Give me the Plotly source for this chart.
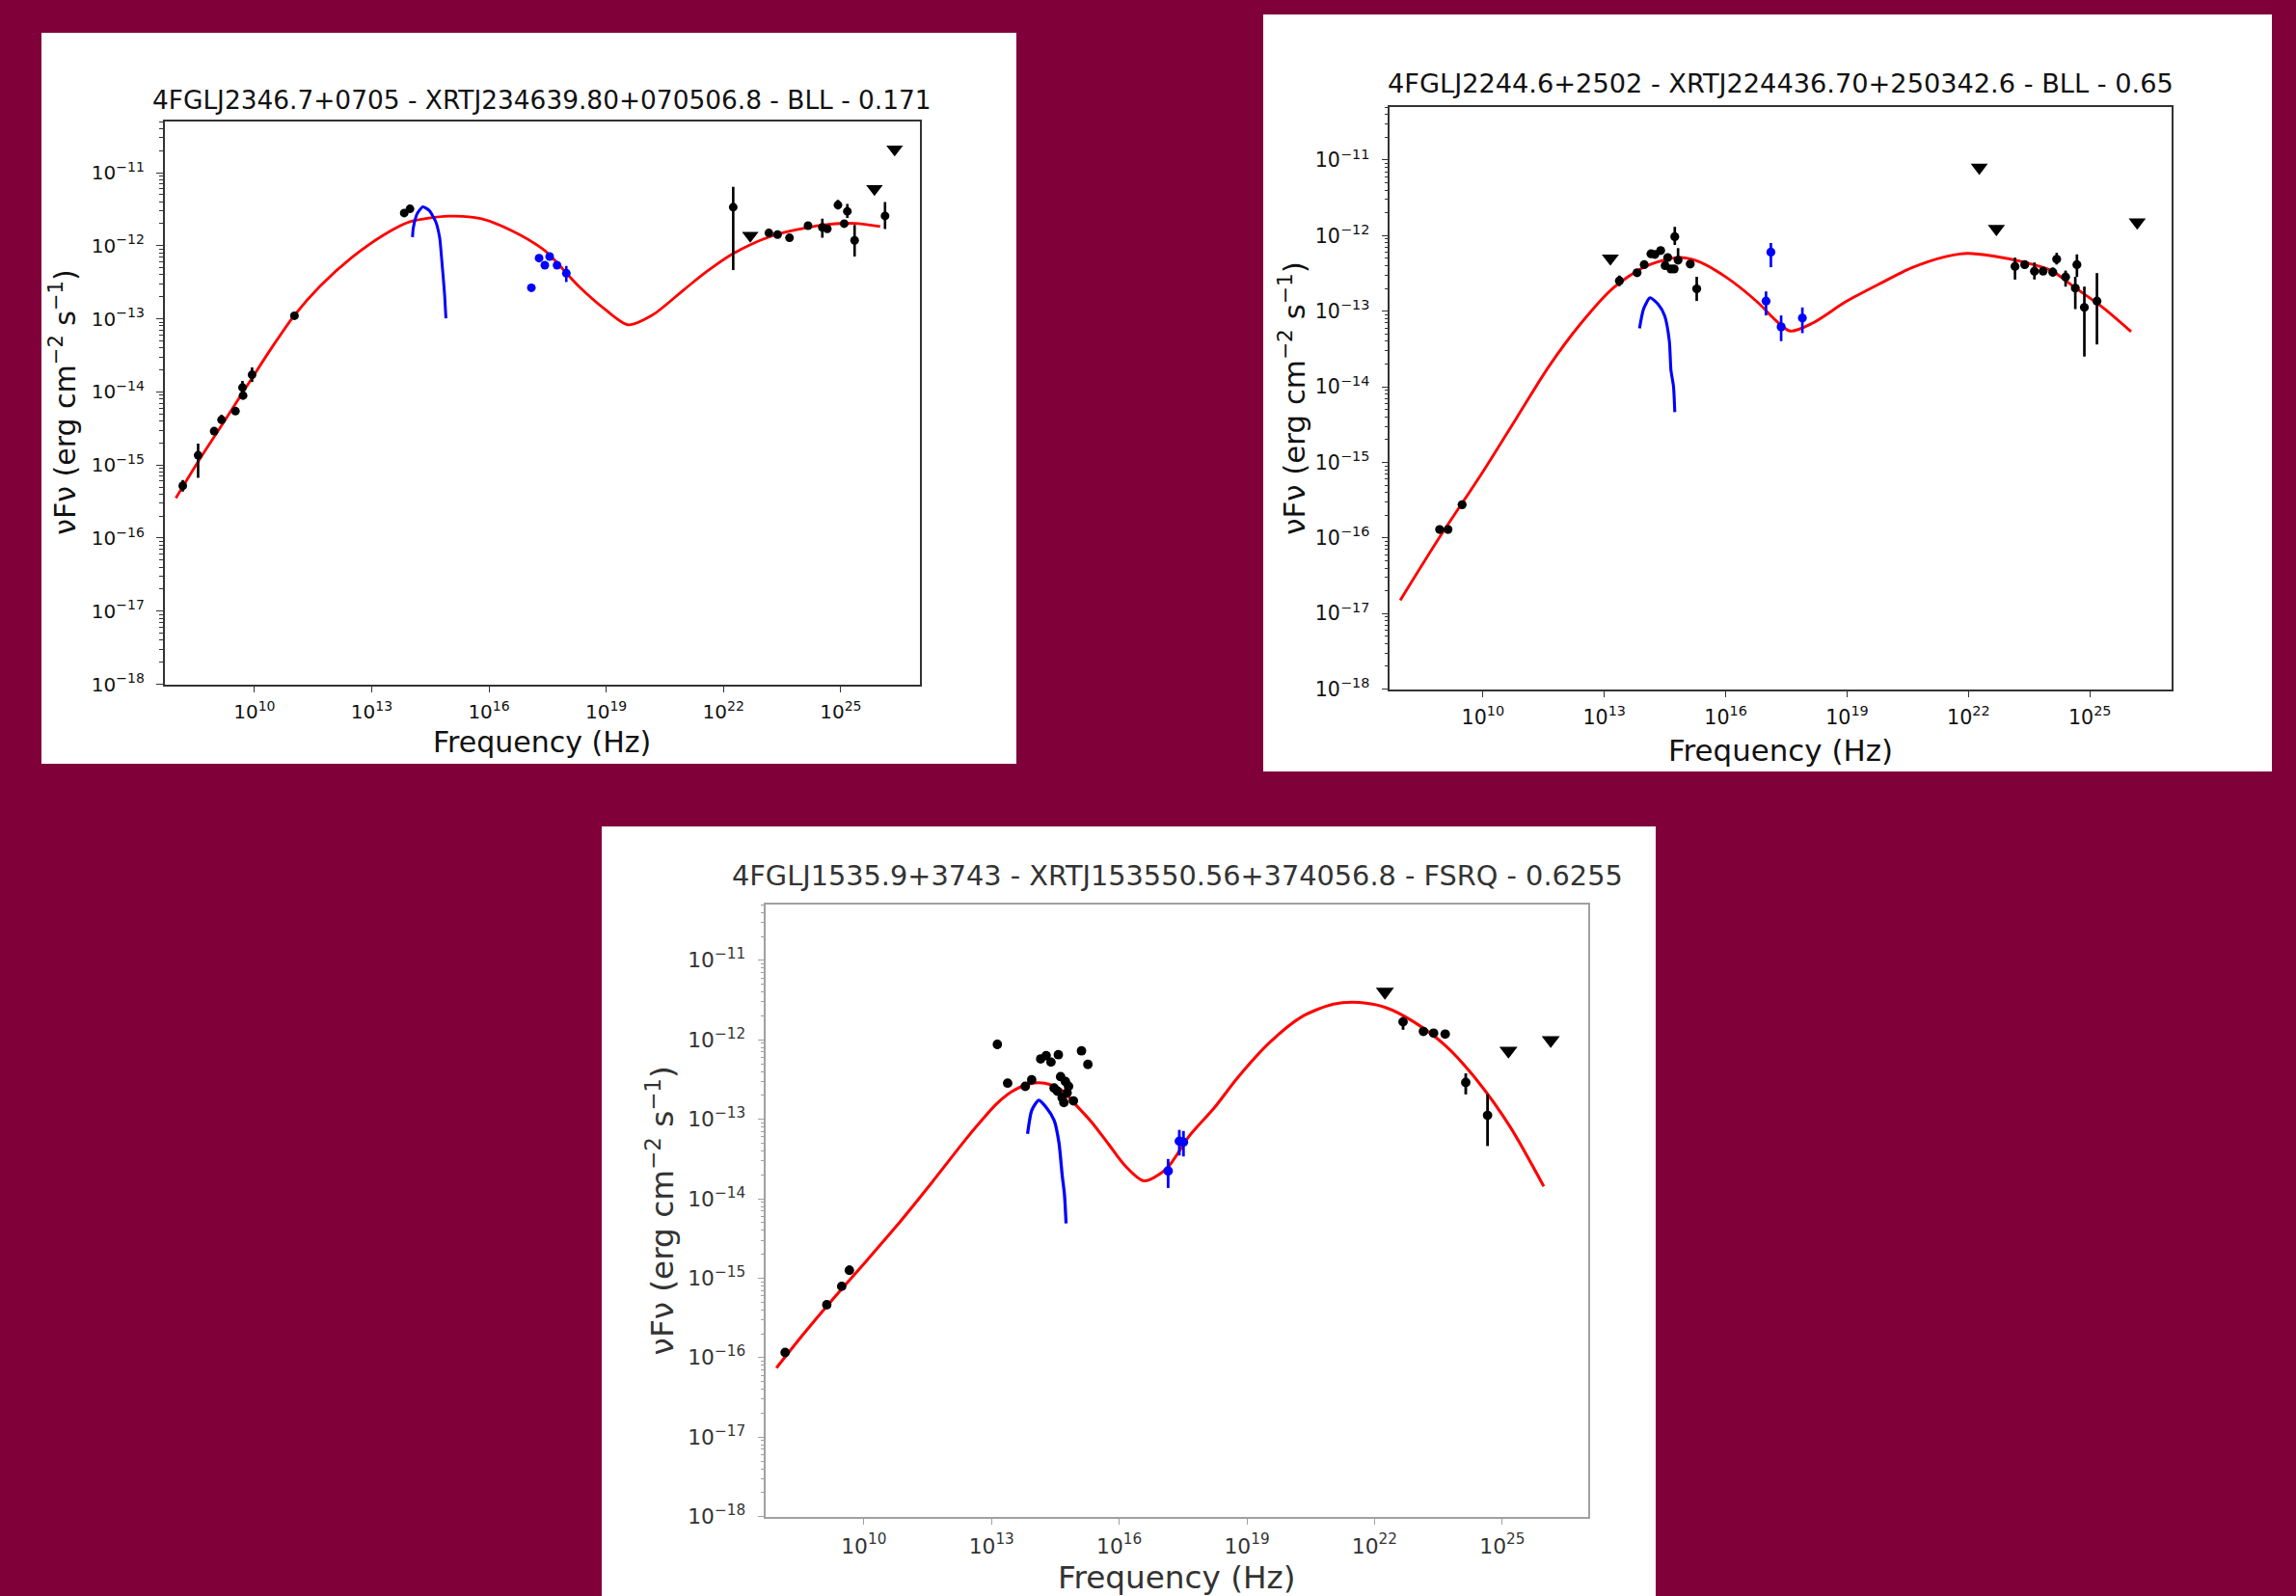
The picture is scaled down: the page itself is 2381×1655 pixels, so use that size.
import numpy as np
import plotly.graph_objects as go

W, H = 2381, 1655
H_EFF = 1640   # vertical placement reference (compensates the slight vertical squeeze seen in the render)
BG = "#80003a"
FONT = "DejaVu Sans"

# ---------------- tick labels ----------------
x_tick_exp = [10, 13, 16, 19, 22, 25]
y_tick_exp = [-18, -17, -16, -15, -14, -13, -12, -11]

# ================= Panel 1 =================
p1_title = "4FGLJ2346.7+0705 - XRTJ234639.80+070506.8 - BLL - 0.171"
p1_pts_lognu = [8.167, 8.56, 8.97, 9.16, 9.515, 9.695, 9.71, 9.94, 11.025, 13.833, 13.98,
                22.25, 23.163, 23.385, 23.69, 24.164, 24.53, 24.657, 24.93, 25.09, 25.17, 25.356, 26.134]
p1_pts_logf = [-15.285, -14.867, -14.537, -14.382, -14.263, -13.94, -14.05, -13.765, -12.958, -11.553, -11.496,
               -11.473, -11.826, -11.848, -11.892, -11.725, -11.75, -11.768, -11.443, -11.698, -11.53, -11.927, -11.592]
p1_pts_errup = [0.08, 0.16, 0.0, 0.07, 0.0, 0.09, 0.05, 0.10, 0.0, 0.0, 0.0,
                0.28, 0.0, 0.0, 0.0, 0.0, 0.12, 0.0, 0.07, 0.0, 0.10, 0.21, 0.19]
p1_pts_errdn = [0.08, 0.31, 0.0, 0.05, 0.0, 0.09, 0.05, 0.10, 0.0, 0.0, 0.0,
                0.86, 0.0, 0.0, 0.0, 0.0, 0.14, 0.0, 0.06, 0.0, 0.09, 0.22, 0.18]
p1_ul_lognu = [22.686, 25.864, 26.38]
p1_ul_logf = [-11.861, -11.222, -10.68]
p1_xr_lognu = [17.086, 17.283, 17.43, 17.554, 17.743, 17.98]
p1_xr_logf = [-12.575, -12.17, -12.267, -12.148, -12.267, -12.377]
p1_xr_errup = [0.0, 0.03, 0.03, 0.03, 0.03, 0.10]
p1_xr_errdn = [0.0, 0.03, 0.03, 0.03, 0.03, 0.12]
p1_tp_lognu = [14.045, 14.064, 14.146, 14.19, 14.31, 14.47, 14.64, 14.74, 14.787, 14.836, 14.868, 14.90]
p1_tp_logf = [-11.883, -11.76, -11.583, -11.54, -11.469, -11.517, -11.672, -11.892, -12.157, -12.465, -12.686, -12.994]
p1_md_lognu = [7.99, 8.56, 9.22, 9.94, 10.45, 11.025, 11.68, 12.503, 13.324, 13.98, 14.967, 15.787,
               16.61, 17.43, 18.295, 18.95, 19.566, 20.18, 21.0, 21.57, 22.235, 23.22, 24.53, 25.356, 26.01]
p1_md_logf = [-15.453, -14.954, -14.41, -13.81, -13.39, -12.95, -12.553, -12.157, -11.848, -11.672, -11.596, -11.628,
              -11.80, -12.068, -12.553, -12.861, -13.082, -12.95, -12.597, -12.355, -12.112, -11.87, -11.716, -11.694, -11.738]

# ================= Panel 2 =================
p2_title = "4FGLJ2244.6+2502 - XRTJ224436.70+250342.6 - BLL - 0.65"
p2_pts_lognu = [8.93, 9.138, 9.486,
                13.373, 13.81, 13.987, 14.154, 14.25, 14.393, 14.504, 14.567, 14.647, 14.727, 14.742, 14.823, 15.124, 15.284,
                23.15, 23.39, 23.63, 23.844, 24.083, 24.18, 24.40, 24.64, 24.68, 24.864, 25.175]
p2_pts_logf = [-15.888, -15.888, -15.56,
               -12.598, -12.49, -12.384, -12.24, -12.248, -12.197, -12.397, -12.29, -12.44, -12.44, -12.014, -12.325, -12.376, -12.704,
               -12.406, -12.384, -12.47, -12.47, -12.483, -12.312, -12.547, -12.695, -12.384, -12.95, -12.866]
p2_pts_errup = [0.0, 0.0, 0.0,
                0.07, 0.0, 0.0, 0.04, 0.04, 0.04, 0.0, 0.0, 0.04, 0.0, 0.13, 0.16, 0.0, 0.16,
                0.115, 0.05, 0.115, 0.03, 0.06, 0.085, 0.085, 0.15, 0.136, 0.276, 0.371]
p2_pts_errdn = [0.0, 0.0, 0.0,
                0.07, 0.0, 0.0, 0.04, 0.04, 0.04, 0.0, 0.0, 0.04, 0.0, 0.11, 0.05, 0.0, 0.16,
                0.175, 0.05, 0.11, 0.03, 0.06, 0.07, 0.128, 0.277, 0.162, 0.65, 0.574]
p2_ul_lognu = [13.15, 22.267, 22.69, 26.17]
p2_ul_logf = [-12.30, -11.098, -11.908, -11.822]
p2_xr_lognu = [16.997, 17.117, 17.37, 17.895]
p2_xr_logf = [-12.866, -12.218, -13.206, -13.09]
p2_xr_errup = [0.128, 0.12, 0.15, 0.14]
p2_xr_errdn = [0.19, 0.20, 0.19, 0.20]
p2_tp_lognu = [13.87, 13.97, 14.13, 14.33, 14.49, 14.608, 14.647, 14.71, 14.742]
p2_tp_logf = [-13.227, -12.97, -12.823, -12.908, -13.057, -13.397, -13.78, -13.994, -14.335]
p2_md_lognu = [7.957, 8.93, 10.03, 10.824, 11.62, 12.418, 13.213, 14.01, 14.81, 15.28, 16.0, 16.797, 17.195, 17.595,
               18.15, 18.97, 19.78, 20.6, 21.41, 21.98, 22.61, 23.406, 24.04, 24.6, 25.32, 26.02]
p2_md_logf = [-16.825, -15.99, -15.10, -14.419, -13.738, -13.163, -12.695, -12.41, -12.29, -12.333, -12.546, -12.886, -13.10, -13.262,
              -13.157, -12.874, -12.644, -12.425, -12.28, -12.234, -12.27, -12.355, -12.46, -12.674, -12.95, -13.27]

# ================= Panel 3 =================
p3_title = "4FGLJ1535.9+3743 - XRTJ153550.56+374056.8 - FSRQ - 0.6255"
p3_pts_lognu = [8.151, 9.13, 9.48, 9.66,
                13.137, 13.379, 13.793, 13.944, 14.155, 14.284, 14.397, 14.57, 15.114, 15.264,
                14.623, 14.736, 14.548, 14.66, 14.775, 14.70, 14.924, 14.81, 14.47,
                22.67, 23.148, 23.387, 23.66, 24.143, 24.655]
p3_pts_logf = [-15.935, -15.335, -15.103, -14.90,
               -12.058, -12.546, -12.586, -12.504, -12.241, -12.20, -12.281, -12.188, -12.139, -12.31,
               -12.464, -12.525, -12.647, -12.728, -12.667, -12.79, -12.769, -12.586, -12.607,
               -11.774, -11.895, -11.916, -11.928, -12.537, -12.951]
p3_pts_errup = [0.0, 0.0, 0.0, 0.06,
                0.06, 0.0, 0.0, 0.0, 0.0, 0.0, 0.0, 0.0, 0.0, 0.0,
                0.0, 0.0, 0.0, 0.0, 0.0, 0.0, 0.0, 0.0, 0.0,
                0.06, 0.0, 0.0, 0.0, 0.114, 0.264]
p3_pts_errdn = [0.0, 0.0, 0.0, 0.06,
                0.06, 0.0, 0.0, 0.0, 0.0, 0.0, 0.0, 0.0, 0.0, 0.0,
                0.0, 0.0, 0.0, 0.0, 0.0, 0.0, 0.0, 0.0, 0.0,
                0.10, 0.0, 0.0, 0.0, 0.15, 0.386]
p3_ul_lognu = [22.243, 25.146, 26.14]
p3_ul_logf = [-11.396, -12.139, -12.005]
p3_xr_lognu = [17.15, 17.413, 17.51]
p3_xr_logf = [-13.65, -13.276, -13.288]
p3_xr_errup = [0.15, 0.142, 0.14]
p3_xr_errdn = [0.215, 0.18, 0.18]
p3_tp_lognu = [13.847, 13.944, 14.11, 14.284, 14.47, 14.585, 14.66, 14.714, 14.752]
p3_tp_logf = [-13.183, -12.89, -12.76, -12.85, -13.012, -13.296, -13.70, -13.946, -14.311]
p3_md_lognu = [7.947, 8.588, 9.344, 10.097, 10.851, 11.607, 12.36, 12.738, 13.114, 13.492, 13.87, 14.245, 14.623,
               15.0, 15.377, 15.755, 16.132, 16.585, 17.113, 17.64, 18.244, 18.77, 19.527, 20.28, 21.034, 21.64,
               22.243, 22.922, 23.675, 24.429, 25.184, 25.976]
p3_md_logf = [-16.13, -15.70, -15.22, -14.76, -14.29, -13.79, -13.276, -13.033, -12.809, -12.647, -12.558, -12.546, -12.626,
              -12.83, -13.052, -13.317, -13.581, -13.776, -13.621, -13.215, -12.85, -12.485, -12.038, -11.713, -11.551, -11.53,
              -11.591, -11.774, -12.078, -12.525, -13.094, -13.844]


def lin(a):
    return 10.0 ** np.asarray(a, dtype=float)


def err_hi(logv, up):
    return lin(np.asarray(logv) + np.asarray(up)) - lin(logv)


def err_lo(logv, dn):
    return lin(logv) - lin(np.asarray(logv) - np.asarray(dn))


# layout geometry in pixels (card rect, axes frame rect)
panels = [
    dict(idx="", title=p1_title, s=1.0, frame="#333333", txt="#111111",
         card=(43, 34, 1054, 791), ax=(170.6, 125.8, 953.7, 708.7),
         title_y=103, xlab_y=769, ylab_x=66,
         pts=(p1_pts_lognu, p1_pts_logf, p1_pts_errup, p1_pts_errdn),
         ul=(p1_ul_lognu, p1_ul_logf),
         xr=(p1_xr_lognu, p1_xr_logf, p1_xr_errup, p1_xr_errdn),
         tp=(p1_tp_lognu, p1_tp_logf), md=(p1_md_lognu, p1_md_logf)),
    dict(idx="2", title=p2_title, s=1.03, frame="#333333", txt="#111111",
         card=(1310, 15, 2356, 799), ax=(1441.3, 111.0, 2252.0, 713.7),
         title_y=86.5, xlab_y=777, ylab_x=1340,
         pts=(p2_pts_lognu, p2_pts_logf, p2_pts_errup, p2_pts_errdn),
         ul=(p2_ul_lognu, p2_ul_logf),
         xr=(p2_xr_lognu, p2_xr_logf, p2_xr_errup, p2_xr_errdn),
         tp=(p2_tp_lognu, p2_tp_logf), md=(p2_md_lognu, p2_md_logf)),
    dict(idx="3", title=p3_title, s=1.09, frame="#a0a0a0", txt="#333333",
         card=(624, 856, 1717, 1700), ax=(794.3, 937.0, 1647.0, 1570.7),
         title_y=907, xlab_y=1634, ylab_x=685,
         pts=(p3_pts_lognu, p3_pts_logf, p3_pts_errup, p3_pts_errdn),
         ul=(p3_ul_lognu, p3_ul_logf),
         xr=(p3_xr_lognu, p3_xr_logf, p3_xr_errup, p3_xr_errdn),
         tp=(p3_tp_lognu, p3_tp_logf), md=(p3_md_lognu, p3_md_logf)),
]

fig = go.Figure()
shapes, annotations = [], []
layout_axes = {}

x_tickvals = [10.0 ** e for e in x_tick_exp]
x_ticktext = ["10<sup>%d</sup>" % e for e in x_tick_exp]
y_tickvals = [10.0 ** e for e in y_tick_exp]
y_ticktext = ["10<sup>\u2212%d</sup>" % (-e) for e in y_tick_exp]
y_minor = [m * 10.0 ** e for e in range(-18, -10) for m in range(2, 10)]


def px(xp):
    return xp / W


def py(yp):
    return 1 - yp / H_EFF


for p in panels:
    s = p["s"]
    xa, ya = "x" + p["idx"], "y" + p["idx"]
    x0, y0, x1, y1 = p["ax"]
    cx = (x0 + x1) / 2
    cy = (y0 + y1) / 2

    # white card behind each plot
    c = p["card"]
    shapes.append(dict(type="rect", xref="paper", yref="paper", layer="below",
                       x0=px(c[0]), x1=px(c[2]), y0=py(c[3]), y1=py(c[1]),
                       fillcolor="white", line=dict(width=0)))

    md_x, md_y = p["md"]
    fig.add_trace(go.Scatter(x=lin(md_x), y=lin(md_y), mode="lines",
                             line=dict(color="#ff0000", width=2.8 * s, shape="spline", smoothing=0.8),
                             xaxis=xa, yaxis=ya, showlegend=False, hoverinfo="skip"))
    tp_x, tp_y = p["tp"]
    fig.add_trace(go.Scatter(x=lin(tp_x), y=lin(tp_y), mode="lines",
                             line=dict(color="#0000ff", width=3.0 * s, shape="spline", smoothing=0.6),
                             xaxis=xa, yaxis=ya, showlegend=False, hoverinfo="skip"))
    xr_x, xr_y, xr_u, xr_d = p["xr"]
    fig.add_trace(go.Scatter(x=lin(xr_x), y=lin(xr_y), mode="markers",
                             marker=dict(color="#0000ff", size=9 * s, line=dict(width=0)),
                             error_y=dict(type="data", symmetric=False, array=err_hi(xr_y, xr_u),
                                          arrayminus=err_lo(xr_y, xr_d), color="#0000ff",
                                          thickness=2.6 * s, width=0),
                             xaxis=xa, yaxis=ya, showlegend=False))
    pt_x, pt_y, pt_u, pt_d = p["pts"]
    fig.add_trace(go.Scatter(x=lin(pt_x), y=lin(pt_y), mode="markers",
                             marker=dict(color="black", size=9 * s, line=dict(width=0)),
                             error_y=dict(type="data", symmetric=False, array=err_hi(pt_y, pt_u),
                                          arrayminus=err_lo(pt_y, pt_d), color="black",
                                          thickness=2.6 * s, width=0),
                             xaxis=xa, yaxis=ya, showlegend=False))
    ul_x, ul_y = p["ul"]
    fig.add_trace(go.Scatter(x=lin(ul_x), y=lin(ul_y), mode="markers",
                             marker=dict(color="black", size=15 * s, symbol="triangle-down", line=dict(width=0)),
                             xaxis=xa, yaxis=ya, showlegend=False))

    common = dict(showline=True, mirror=True, linecolor=p["frame"], linewidth=1.6,
                  ticks="outside", ticklen=7, tickwidth=1.4, tickcolor=p["frame"],
                  showgrid=False, zeroline=False, type="log",
                  tickfont=dict(family=FONT, size=20 * s, color=p["txt"]))
    layout_axes["xaxis" + p["idx"]] = dict(common, domain=[px(x0), px(x1)], anchor=ya,
                                           range=[7.7, 27.02], tickmode="array",
                                           tickvals=x_tickvals, ticktext=x_ticktext,
                                           ticklabelstandoff=3)
    layout_axes["yaxis" + p["idx"]] = dict(common, domain=[py(y1), py(y0)], anchor=xa,
                                           range=[-18, -10.3], tickmode="array",
                                           tickvals=y_tickvals, ticktext=y_ticktext,
                                           ticklabelstandoff=8,
                                           minor=dict(ticks="outside", ticklen=4, tickwidth=1.1,
                                                      tickcolor=p["frame"], tickmode="array",
                                                      tickvals=y_minor, showgrid=False))

    annotations.append(dict(xref="paper", yref="paper", x=px(cx), y=py(p["title_y"]),
                            xanchor="center", yanchor="middle", showarrow=False,
                            text=p["title"], font=dict(family=FONT, size=26.4 * s, color=p["txt"])))
    annotations.append(dict(xref="paper", yref="paper", x=px(cx), y=py(p["xlab_y"]),
                            xanchor="center", yanchor="middle", showarrow=False,
                            text="Frequency (Hz)", font=dict(family=FONT, size=30 * s, color=p["txt"])))
    annotations.append(dict(xref="paper", yref="paper", x=px(p["ylab_x"]), y=py(cy),
                            xanchor="center", yanchor="middle", showarrow=False, textangle=-90,
                            text="\u03bdF\u03bd (erg cm<sup>\u22122</sup> s<sup>\u22121</sup>)",
                            font=dict(family=FONT, size=30 * s, color=p["txt"])))

fig.update_layout(width=W, height=H, margin=dict(l=0, r=0, t=0, b=0),
                  paper_bgcolor=BG, plot_bgcolor="white",
                  shapes=shapes, annotations=annotations, **layout_axes)

fig.write_html("out.html")
